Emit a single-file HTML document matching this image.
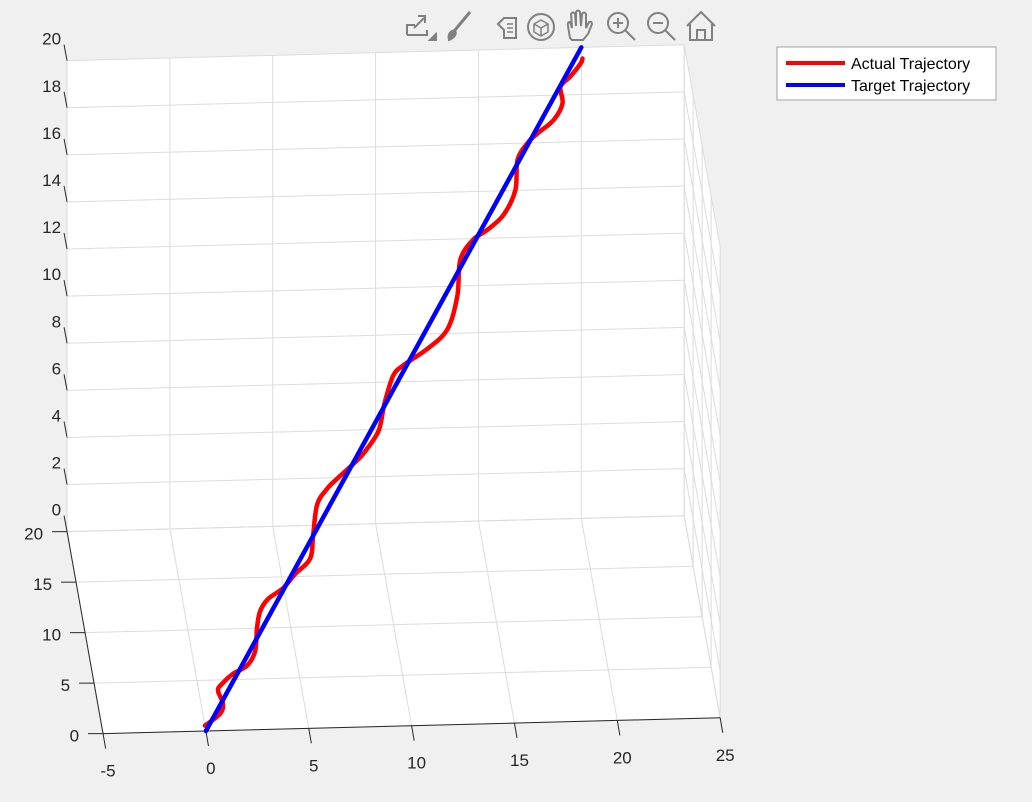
<!DOCTYPE html>
<html><head><meta charset="utf-8"><style>
html,body{margin:0;padding:0;background:#f0f0f0;}
svg{display:block;font-family:"Liberation Sans",sans-serif;}
</style></head><body>
<svg id="chart" width="1032" height="802" viewBox="0 0 1032 802" xmlns="http://www.w3.org/2000/svg">
<rect width="1032" height="802" fill="#f0f0f0"/>
<g id="walls"></g>
<g id="grid"></g>
<g id="axes"></g>
<g id="series"></g>
<g id="toolbar" fill="none" stroke="#808080" stroke-width="2">
  <g><path d="M407 35 L407 25 L415 25 M407 35 L427 35 L427 30 M414 28 L424 18 M418 16 L425 16 L425 23"/><path d="M430 40 L436 40 L436 34 Z" fill="#808080"/></g>
  <g><path d="M470 12 L455 30" stroke-width="3"/><path d="M449 40 Q447 32 455 30 Q458 36 449 40 Z" fill="#808080"/></g>
  <g><path d="M498 24 L504 18 L516 18 L516 38 L504 38 L504 30 Z"/><path d="M507 24 H513 M507 28 H513 M507 32 H513" stroke-width="1.5"/></g>
  <g><circle cx="541" cy="27" r="13"/><path d="M534 24 L541 20 L548 24 L548 32 L541 36 L534 32 Z M534 24 L541 28 L548 24 M541 28 V36" stroke-width="1.5"/></g>
  <g><path d="M570 38 L568 26 Q567 22 570 22 L572 28 L571 14 Q573 11 575 14 L576 26 L576 12 Q578 9 580 12 L581 26 L582 14 Q584 11 586 14 L586 28 L589 22 Q592 21 592 24 L588 34 L583 40 L572 40 Z"/></g>
  <g><circle cx="618" cy="23" r="10"/><path d="M625 30 L635 40 M613 23 H623 M618 18 V28"/></g>
  <g><circle cx="658" cy="23" r="10"/><path d="M665 30 L675 40 M653 23 H663"/></g>
  <g><path d="M687 26 L701 12 L715 26 M690 24 V40 H712 V24 M697 40 V30 H705 V40"/></g>
</g>
<g>
  <rect x="777" y="47" width="219" height="53" fill="#ffffff" stroke="#a0a0a0" stroke-width="1"/>
  <line x1="786" y1="63" x2="845" y2="63" stroke="#ff0000" stroke-width="4"/>
  <text x="851" y="69" font-size="16" fill="#000">Actual Trajectory</text>
  <line x1="786" y1="85" x2="845" y2="85" stroke="#0000ff" stroke-width="4"/>
  <text x="851" y="91" font-size="16" fill="#000">Target Trajectory</text>
</g>
</svg>
<script>
// ---- data ----
const xTicks = [-5, 0, 5, 10, 15, 20, 25];
const yTicks = [0, 5, 10, 15, 20];
const zTicks = [0, 2, 4, 6, 8, 10, 12, 14, 16, 18, 20];
const targetX = [0, 20];
const targetY = [0, 20];
const targetZ = [0, 20];
const actualX = [-0.03,0.73,0.90,0.69,0.91,1.47,2.17,2.60,2.75,2.94,3.36,4.12,4.74,5.51,5.72,5.99,6.52,7.03,7.69,8.36,9.14,9.45,9.57,10.02,10.53,11.74,12.77,13.34,13.58,14.26,14.97,15.79,16.43,16.61,17.14,17.65,18.46,18.94,18.89,19.40,19.92,20.03];
const actualY = [0.16,0.50,0.80,1.19,1.39,1.68,1.91,2.34,3.02,3.51,3.87,4.18,4.59,5.04,5.75,6.64,7.10,7.39,7.73,8.11,8.75,9.42,9.68,10.41,10.70,11.17,11.74,12.73,13.80,14.38,14.66,15.09,15.82,16.71,17.20,17.48,17.86,18.35,18.85,19.15,19.52,19.67];
const actualZ = [0.16,0.50,0.80,1.19,1.39,1.68,1.91,2.34,3.02,3.51,3.87,4.18,4.59,5.04,5.75,6.64,7.10,7.39,7.73,8.11,8.75,9.42,9.68,10.41,10.70,11.17,11.74,12.73,13.80,14.38,14.66,15.09,15.82,16.71,17.20,17.48,17.86,18.35,18.85,19.15,19.52,19.67];

const X0=-5,X1=25,Y0=0,Y1=20,Z0=0,Z1=20;
function P(x,y,z){
  return [205.9 + 20.57*x - 1.8*y, 731 - 0.53*x - 10.1*y - 23.55*z];
}
const NS="http://www.w3.org/2000/svg";
function mk(tag, parent, attrs){
  const e=document.createElementNS(NS,tag);
  for(const k in attrs) e.setAttribute(k, attrs[k]);
  parent.appendChild(e); return e;
}
function line3(parent,a,b,stroke,w,name){
  const p=P(...a), q=P(...b);
  const l=mk('line',parent,{x1:p[0],y1:p[1],x2:q[0],y2:q[1],stroke:stroke,'stroke-width':w});
  
  
  return l;
}
function poly(parent,pts,name){
  const s=pts.map(p=>P(...p).join(',')).join(' ');
  const e=mk('polygon',parent,{points:s,fill:'#ffffff',stroke:'none'});
  
  
}
const walls=document.getElementById('walls');
poly(walls,[[X0,Y1,Z0],[X1,Y1,Z0],[X1,Y1,Z1],[X0,Y1,Z1]],'back-wall');
poly(walls,[[X1,Y0,Z0],[X1,Y1,Z0],[X1,Y1,Z1],[X1,Y0,Z1]],'right-wall');
poly(walls,[[X0,Y0,Z0],[X1,Y0,Z0],[X1,Y1,Z0],[X0,Y1,Z0]],'floor');

const grid=document.getElementById('grid');
const gc='#dcdcdc';
xTicks.forEach(x=>{
  line3(grid,[x,Y0,Z0],[x,Y1,Z0],gc,1,'floor-grid-x');
  line3(grid,[x,Y1,Z0],[x,Y1,Z1],gc,1,'back-grid-x');
});
yTicks.forEach(y=>{
  line3(grid,[X0,y,Z0],[X1,y,Z0],gc,1,'floor-grid-y');
  line3(grid,[X1,y,Z0],[X1,y,Z1],gc,1,'right-grid-y');
});
zTicks.forEach(z=>{
  line3(grid,[X0,Y1,z],[X1,Y1,z],gc,1,'back-grid-z');
  line3(grid,[X1,Y0,z],[X1,Y1,z],gc,1,'right-grid-z');
});

const axes=document.getElementById('axes');
const ac='#262626';
line3(axes,[X0,Y0,Z0],[X1,Y0,Z0],ac,1,'x-axis-line');
line3(axes,[X0,Y0,Z0],[X0,Y1,Z0],ac,1,'y-axis-line');
function txt(parent,x,y,s,anchor,name){
  const t=mk('text',parent,{x:x,y:y,'font-size':17,fill:'#262626','text-anchor':anchor});
  t.textContent=s;
  
  
}
xTicks.forEach(x=>{
  const p=P(x,Y0,Z0);
  const t=mk('line',axes,{x1:p[0],y1:p[1],x2:p[0]+2.6,y2:p[1]+15,stroke:ac,'stroke-width':1});
  
  
  txt(axes,p[0]+5,p[1]+43,String(x),'middle','x-tick-label');
});
yTicks.forEach(y=>{
  const p=P(X0,y,Z0);
  const t=mk('line',axes,{x1:p[0]-15,y1:p[1],x2:p[0],y2:p[1],stroke:ac,'stroke-width':1});
  
  
  txt(axes,p[0]-24,p[1]+8,String(y),'end','y-tick-label');
});
zTicks.forEach(z=>{
  const p=P(X0,Y1,z);
  const t=mk('line',axes,{x1:p[0]-3,y1:p[1]-16,x2:p[0],y2:p[1],stroke:ac,'stroke-width':1});
  
  
  txt(axes,p[0]-6,p[1]-16,String(z),'end','z-tick-label');
});

const series=document.getElementById('series');
function path(xs,ys,zs,color,name){
  const pts=xs.map((x,i)=>P(x,ys[i],zs[i]));
  let d='M'+pts[0][0].toFixed(1)+' '+pts[0][1].toFixed(1);
  for(let i=0;i<pts.length-1;i++){
    const p0=pts[Math.max(0,i-1)],p1=pts[i],p2=pts[i+1],p3=pts[Math.min(pts.length-1,i+2)];
    const c1=[p1[0]+(p2[0]-p0[0])/6,p1[1]+(p2[1]-p0[1])/6];
    const c2=[p2[0]-(p3[0]-p1[0])/6,p2[1]-(p3[1]-p1[1])/6];
    d+=' C'+c1[0].toFixed(1)+' '+c1[1].toFixed(1)+' '+c2[0].toFixed(1)+' '+c2[1].toFixed(1)+' '+p2[0].toFixed(1)+' '+p2[1].toFixed(1);
  }
  const e=mk('path',series,{d:d,fill:'none',stroke:color,'stroke-width':4.5,'stroke-linejoin':'round','stroke-linecap':'round'});
  
  
}
path(actualX,actualY,actualZ,'#ff0000','actual-trajectory-line');
path(targetX,targetY,targetZ,'#0000ff','target-trajectory-line');
</script>
</body></html>
